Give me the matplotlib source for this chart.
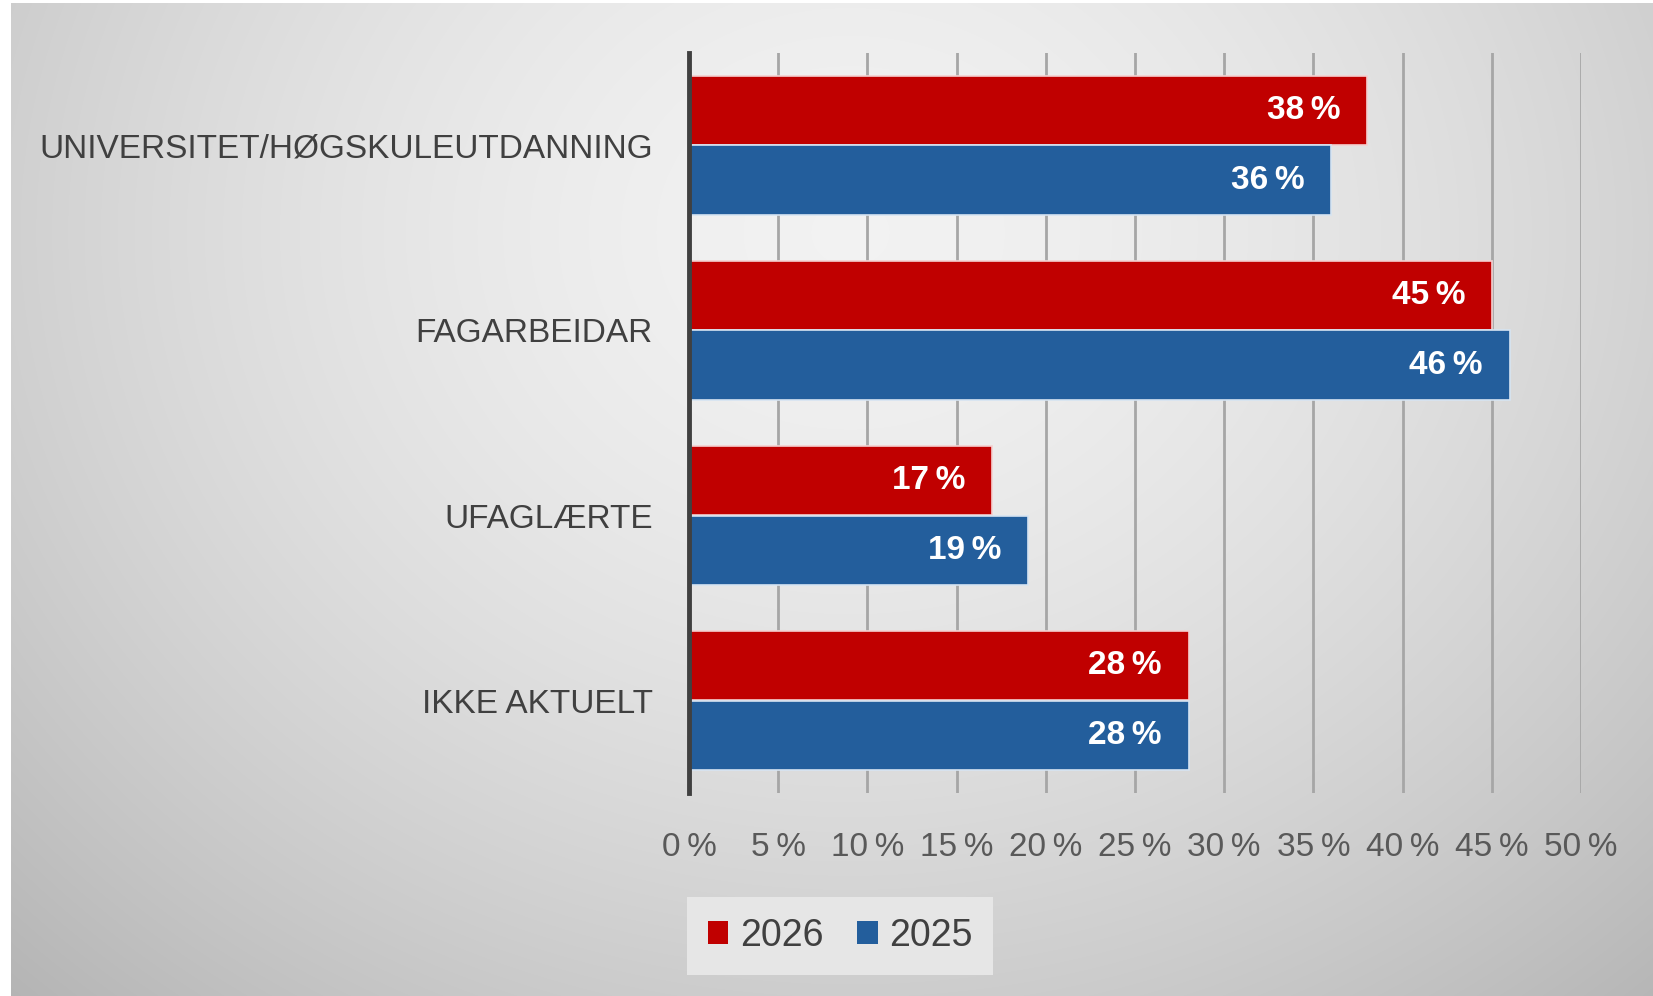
import matplotlib
matplotlib.use('Agg')
import matplotlib.pyplot as plt
import numpy as np

categories = ['UNIVERSITET/HØGSKULEUTDANNING', 'FAGARBEIDAR', 'UFAGLÆRTE', 'IKKE AKTUELT']
series_names = ['2026', '2025']
values_2026 = [38, 45, 17, 28]
values_2025 = [36, 46, 19, 28]
xticks = [0, 5, 10, 15, 20, 25, 30, 35, 40, 45, 50]

red = '#c00000'
blue = '#235e9c'
W, H = 1653, 996

plt.rcParams['font.family'] = ['Liberation Sans', 'DejaVu Sans']
fig = plt.figure(figsize=(W / 100, H / 100), dpi=100)
fig.patch.set_facecolor('white')

# gradient background
bg = fig.add_axes([11 / W, 0, 1 - 11 / W, 993 / H], zorder=-10)
yy, xx = np.mgrid[0:993, 11:W]
r = np.sqrt(((xx - 850) / 1050) ** 2 + ((yy - 230) / 900) ** 2)
val = 0.95 - 0.19 * np.clip(r, 0, 1.2) ** 1.6
img = np.dstack([val, val, val])
bg.imshow(img, aspect='auto', interpolation='bilinear')
bg.axis('off')

ax = fig.add_axes([689 / W, 1 - 793 / H, (1581 - 689) / W, (793 - 53) / H])
ax.set_facecolor('none')

y = np.arange(len(categories))
h = 0.376
b1 = ax.barh(y - h / 2, values_2026, height=h, color=red, edgecolor='#f4d0d0',
             linewidth=1.2, label=series_names[0], zorder=3)
b2 = ax.barh(y + h / 2, values_2025, height=h, color=blue, edgecolor='#d6e4f2',
             linewidth=1.2, label=series_names[1], zorder=3)

for bars, vals in ((b1, values_2026), (b2, values_2025)):
    for bar, v in zip(bars, vals):
        ax.text(v - 1.5, bar.get_y() + bar.get_height() / 2, f'{v}\u2009%',
                ha='right', va='center', color='white', fontsize=24,
                fontweight='bold', zorder=4)

ax.set_xlim(0, 50)
ax.set_ylim(len(categories) - 0.5, -0.5)
ax.set_xticks(xticks)
ax.set_xticklabels([f'{t}\u2009%' for t in xticks], color='#595959', fontsize=24)
ax.set_yticks(y)
ax.set_yticklabels(categories, color='#404040', fontsize=24)
ax.tick_params(axis='x', length=0, pad=28)
ax.tick_params(axis='y', length=0, pad=26)

ax.xaxis.grid(True, color='#a6a6a6', linewidth=2, zorder=0)
ax.set_axisbelow(True)
for s in ['top', 'right', 'bottom']:
    ax.spines[s].set_visible(False)
ax.spines['left'].set_color('#404040')
ax.spines['left'].set_linewidth(3.5)
ax.spines['left'].set_zorder(5)

leg = fig.legend(handles=[b1, b2], labels=series_names, loc='center',
                 bbox_to_anchor=(840 / W, 1 - 936 / H), ncol=2, frameon=True,
                 fontsize=27, handlelength=0.55, handleheight=0.55,
                 handletextpad=0.3, columnspacing=0.9, borderpad=0.55,
                 fancybox=False)
leg.get_frame().set_facecolor('#e6e6e6')
leg.get_frame().set_edgecolor('none')
leg.get_frame().set_alpha(1)
for t in leg.get_texts():
    t.set_color('#404040')
for p in leg.get_patches():
    p.set_edgecolor('none')

fig.savefig('out.png', dpi=100)
